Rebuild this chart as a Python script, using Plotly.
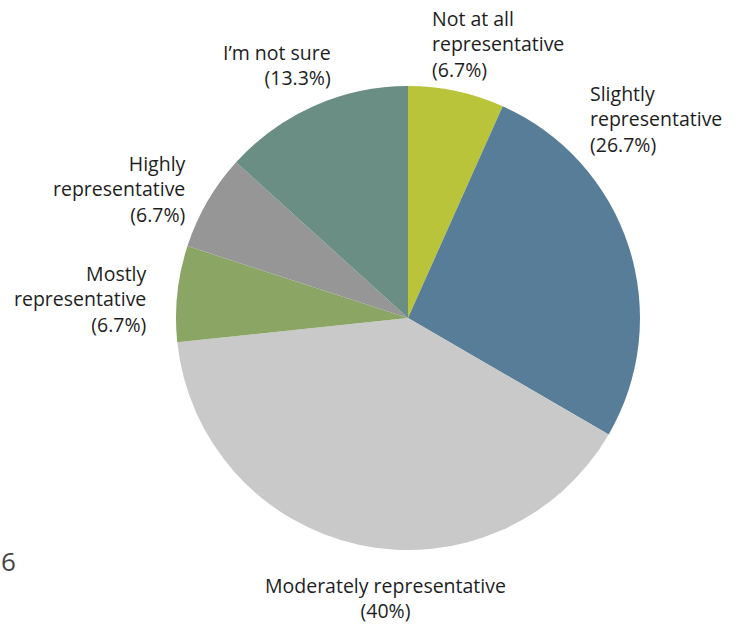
import plotly.graph_objects as go

# Survey responses: how representative the sample is
categories = [
    "Not at all<br>representative",
    "Slightly<br>representative",
    "Moderately representative",
    "Mostly<br>representative",
    "Highly<br>representative",
    "I’m not sure",
]
shares = [6.7, 26.7, 40, 6.7, 6.7, 13.3]
colors = ["#B9C43B", "#577D99", "#C9C9C9", "#8BA664", "#969696", "#6A8E84"]

W, H = 741, 624
cx, cy, r = 408, 318, 232

# Label placement (pixel centre of the text block) and alignment
label_pos = [
    (430, 44, "left"),
    (588, 119, "left"),
    (385, 598, "center"),
    (149, 299, "right"),
    (188, 189, "right"),
    (333, 65, "right"),
]

fig = go.Figure(
    go.Pie(
        labels=categories,
        values=shares,
        marker=dict(colors=colors, line=dict(width=0)),
        sort=False,
        direction="clockwise",
        rotation=0,
        textinfo="none",
        hoverinfo="label+percent",
        showlegend=False,
        domain=dict(x=[(cx - r) / W, (cx + r) / W], y=[1 - (cy + r) / H, 1 - (cy - r) / H]),
    )
)

font = dict(family="'Open Sans', sans-serif", size=19.5, color="#1e1e1e")
for cat, val, (px, py, align) in zip(categories, shares, label_pos):
    fig.add_annotation(
        text=f"{cat}<br>({val:g}%)",
        x=px / W,
        y=1 - py / H,
        xref="paper",
        yref="paper",
        xanchor=align,
        yanchor="middle",
        align=align,
        showarrow=False,
        font=font,
    )

# Stray character at the left edge
fig.add_annotation(
    text="6", x=0, y=1 - 561 / H, xref="paper", yref="paper",
    xanchor="left", yanchor="middle", showarrow=False, borderpad=0,
    font=dict(family="'Open Sans', sans-serif", size=26, color="#444444"),
)

fig.update_layout(
    width=W,
    height=H,
    margin=dict(l=0, r=0, t=0, b=0),
    paper_bgcolor="white",
    plot_bgcolor="white",
)

fig.write_html("out.html")
